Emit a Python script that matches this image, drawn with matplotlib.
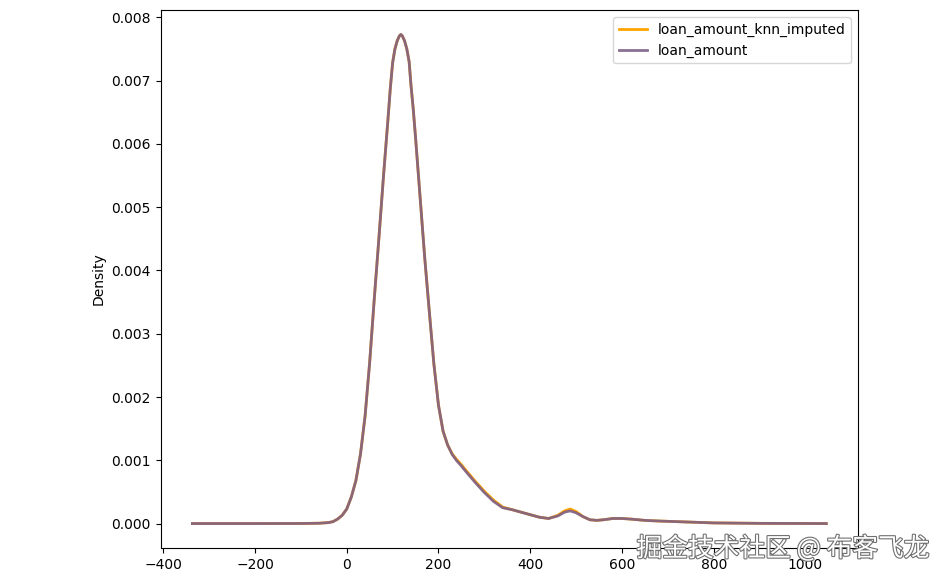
import matplotlib
matplotlib.use("Agg")
import matplotlib.pyplot as plt
import matplotlib.patheffects as pe

# Density curves (x = loan amount, y = density)
x_vals = [-336.5, -300, -200, -100, -60, -40, -30, -20, -10, 0, 10, 20, 30, 40, 50,
          60, 70, 80, 90, 95, 100, 105, 110, 115, 118, 121, 126, 131, 136, 140, 145,
          150, 160, 170, 180, 190, 200, 210, 220, 230, 240, 250, 260, 280, 300, 320,
          340, 360, 380, 400, 420, 440, 460, 475, 487, 500, 515, 530, 545, 560, 580,
          600, 620, 650, 680, 720, 760, 800, 900, 1000, 1045.5]

loan_amount = [0.0, 0.0, 0.0, 0.000001, 0.000005, 0.000015, 0.00003, 0.00007, 0.00013,
               0.00023, 0.00042, 0.00068, 0.00110, 0.00170, 0.00255, 0.00355, 0.00450,
               0.00548, 0.00640, 0.00688, 0.00728, 0.00750, 0.00763, 0.00771, 0.00773,
               0.00771, 0.00763, 0.00750, 0.00730, 0.00693, 0.00655, 0.00610, 0.00515,
               0.00420, 0.00335, 0.00252, 0.00187, 0.00146, 0.00124, 0.00109, 0.00099,
               0.00091, 0.00082, 0.00065, 0.00049, 0.00035, 0.00025, 0.00022, 0.00018,
               0.00014, 0.00010, 0.00008, 0.00012, 0.00018, 0.00020, 0.00017, 0.00011,
               0.00006, 0.00005, 0.00006, 0.00008, 0.00008, 0.00007, 0.00005, 0.00004,
               0.00003, 0.00002, 0.00001, 0.000003, 0.000001, 0.0]

loan_amount_knn_imputed = [0.0, 0.0, 0.0, 0.000001, 0.000005, 0.000015, 0.00003, 0.00007,
                           0.00013, 0.00023, 0.00042, 0.00068, 0.00110, 0.00170, 0.00255,
                           0.00355, 0.00450, 0.00548, 0.00640, 0.00688, 0.00728, 0.00750,
                           0.00763, 0.00771, 0.00773, 0.00771, 0.00763, 0.00750, 0.00730,
                           0.00693, 0.00655, 0.00610, 0.00515, 0.00420, 0.00335, 0.00252,
                           0.00187, 0.00146, 0.00124, 0.00110, 0.00101, 0.00093, 0.00084,
                           0.00067, 0.00051, 0.00037, 0.00026, 0.00022, 0.00018, 0.00014,
                           0.00010, 0.00008, 0.00013, 0.00020, 0.00023, 0.00019, 0.00011,
                           0.00006, 0.00005, 0.00006, 0.00008, 0.00008, 0.00007, 0.00005,
                           0.00004, 0.00003, 0.00002, 0.00001, 0.000003, 0.000001, 0.0]

fig = plt.figure(figsize=(9.48, 5.82), dpi=100)
ax = fig.add_axes([160.7 / 948, 1 - 548 / 582, (858 - 160.7) / 948, (548 - 10) / 582])

ax.plot(x_vals, loan_amount_knn_imputed, color="orange", lw=2, label="loan_amount_knn_imputed")
ax.plot(x_vals, loan_amount, color="#7d5f86", lw=2, alpha=0.9, label="loan_amount")

ax.set_ylabel("Density")
ax.legend(loc="upper right")

fig.text(0.981, 0.057, "掘金技术社区 @ 布客飞龙", ha="right", va="center", fontsize=18.5,
         color="white", family=["Noto Sans CJK SC", "DejaVu Sans"],
         path_effects=[pe.withStroke(linewidth=1.6, foreground="#707070")])

fig.savefig("out.png", dpi=100)
